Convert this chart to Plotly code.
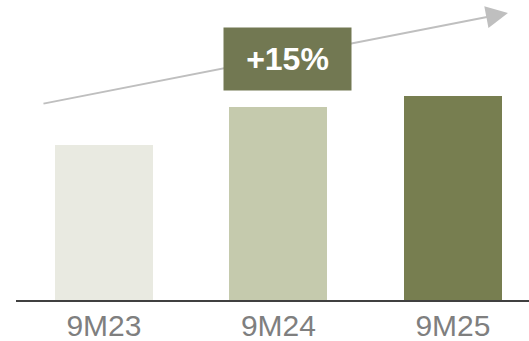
import plotly.graph_objects as go

# Nine-month totals by period
periods = ["9M23", "9M24", "9M25"]
values = [155, 193, 204]
bar_colors = ["#e9eae1", "#c5caad", "#777e50"]
growth_label = "+15%"

fig = go.Figure()
fig.add_trace(go.Bar(
    x=periods,
    y=values,
    marker=dict(color=bar_colors, line=dict(width=0)),
    width=0.562,
    hoverinfo="skip",
))

# Trend arrow across the bars
fig.add_annotation(
    xref="paper", yref="paper",
    x=0.959, y=0.957,
    ax=-466, ay=91,
    axref="pixel", ayref="pixel",
    text="", showarrow=True,
    arrowhead=2, arrowsize=2.2, arrowwidth=2,
    arrowcolor="#bfbfbf",
)

# Growth badge
fig.add_annotation(
    xref="paper", yref="paper",
    x=(287.5 - 16) / 513, y=(300 - 59) / 300,
    xanchor="center", yanchor="middle",
    text="<b>" + growth_label + "</b>",
    showarrow=False,
    bgcolor="#727852",
    width=127, height=62, borderpad=0,
    font=dict(family="Liberation Sans, Arial", size=32, color="white"),
)

fig.update_layout(
    width=529, height=341,
    margin=dict(l=16, r=0, t=0, b=41),
    paper_bgcolor="white", plot_bgcolor="white",
    showlegend=False,
    bargap=0,
    xaxis=dict(
        type="category",
        range=[-0.504, 2.436],
        showline=True, linecolor="#404040", linewidth=2,
        showgrid=False, zeroline=False, ticks="",
        ticklabelstandoff=-2,
        tickfont=dict(family="Liberation Sans, Arial", size=30, color="#7f7f7f"),
    ),
    yaxis=dict(
        range=[0, 300],
        visible=False, showgrid=False, zeroline=False,
    ),
)

fig.write_html("out.html")
